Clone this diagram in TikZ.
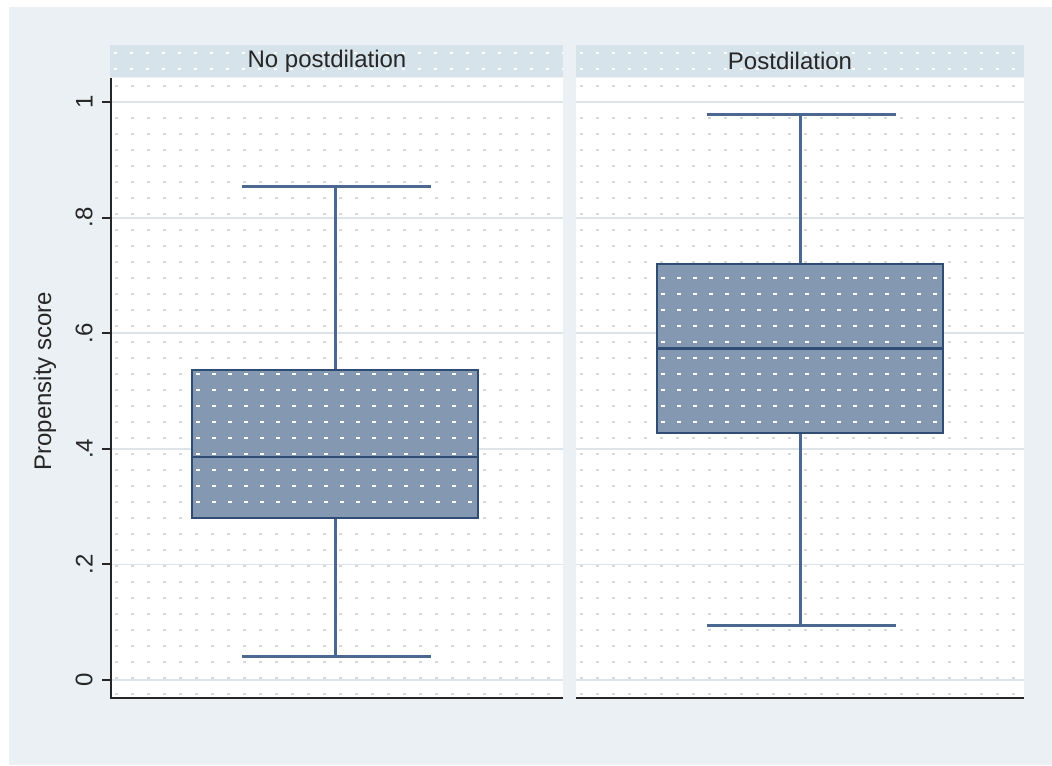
\documentclass[tikz,border=0pt]{standalone}
\usepackage{fontspec}
\setmainfont{Liberation Sans}
\usetikzlibrary{positioning}
\definecolor{stbg}{HTML}{EAF0F3}
\definecolor{ststrip}{HTML}{D7E3EA}
\definecolor{stbox}{HTML}{8598B1}
\definecolor{stedge}{HTML}{2E4C74}
\definecolor{stwhisk}{HTML}{4A6891}
\definecolor{stgrid}{HTML}{DDE4E9}
\definecolor{stdots}{HTML}{D3D9DD}
\newcommand{\py}[1]{680-578*#1}

\begin{document}
\begin{tikzpicture}[
  x=0.5pt, y=-0.5pt, font=\fontsize{12}{14}\selectfont, text=black!85,
  strip/.style={fill=ststrip},
  plotarea/.style={fill=white},
  dotrow/.style={stdots, line width=0.8pt, dash pattern=on 1.5pt off 6.5pt, dash phase=-2pt},
  boxrow/.style={white, line width=1pt, dash pattern=on 2pt off 6pt, dash phase=-2pt},
  gridline/.style={stgrid, line width=0.9pt},
  axisline/.style={black!85, line width=1.4pt},
  whisker/.style={stwhisk, line width=1.5pt},
  iqr/.style={fill=stbox, draw=stedge, line width=1pt},
  medline/.style={stedge, line width=1.3pt},
  ticklab/.style={rotate=90, anchor=south, inner sep=1pt},
]
\useasboundingbox (0,0) rectangle (1052,765);
\fill[white] (0,0) rectangle (1052,765);
\fill[stbg] (9,7) rectangle (1052,765);
% panels and strips
\foreach \px/\qx/\sx in {111/563/110, 576/1024/576} {
  \fill[strip] (\sx,45) rectangle (\qx,77);
  \fill[plotarea] (\px,78) rectangle (\qx,698);
  \begin{scope}
    \clip (\px,78) rectangle (\qx,698);
    \foreach \yy in {86,102,...,698}
      \draw[dotrow] (\px,\yy) -- (\qx,\yy);
  \end{scope}
  \begin{scope}
    \clip (\sx,45) rectangle (\qx,77);
    \foreach \yy in {53,69}
      \draw[dotrow, white] (\sx,\yy) -- (\qx,\yy);
  \end{scope}
  \foreach \v in {0,.2,.4,.6,.8,1}
    \draw[gridline] (\px,{\py{\v}}) -- (\qx,{\py{\v}});
}
\node (nopost) at (327,61) {No postdilation};
\node (post) at (790,61) {Postdilation};
% boxes
\foreach \cx/\lo/\qa/\md/\qb/\hi in {335/0.040/0.280/0.386/0.536/0.853, 800/0.095/0.427/0.574/0.720/0.979} {
  \draw[whisker] (\cx,{\py{\hi}}) -- (\cx,{\py{\qb}});
  \draw[whisker] (\cx,{\py{\lo}}) -- (\cx,{\py{\qa}});
  \draw[whisker] (\cx-93,{\py{\hi}}) -- (\cx+96,{\py{\hi}});
  \draw[whisker] (\cx-93,{\py{\lo}}) -- (\cx+96,{\py{\lo}});
  \fill[stbox] (\cx-143,{\py{\qa}}) rectangle (\cx+143,{\py{\qb}});
  \begin{scope}
    \clip (\cx-143,{\py{\qa}}) rectangle (\cx+143,{\py{\qb}});
    \foreach \yy in {86,102,...,698}
      \draw[boxrow] (\cx-143,\yy) -- (\cx+143,\yy);
  \end{scope}
  \draw[iqr, fill=none] (\cx-143,{\py{\qa}}) rectangle (\cx+143,{\py{\qb}});
  \draw[medline] (\cx-143,{\py{\md}}) -- (\cx+143,{\py{\md}});
}
% axes
\draw[axisline] (111,78) -- (111,698) -- (563,698);
\draw[axisline] (576,698) -- (1024,698);
\foreach \v/\t/\i in {0/0/a, .2/.2/b, .4/.4/c, .6/.6/d, .8/.8/e, 1/1/f} {
  \draw[axisline, line width=1pt] (102,{\py{\v}}) -- (111,{\py{\v}});
  \node[ticklab] (tick\i) at (95,{\py{\v}}) {\t};
}
\node[rotate=90] (ytitle) at (45,381) {Propensity score};
\end{tikzpicture}
\end{document}
